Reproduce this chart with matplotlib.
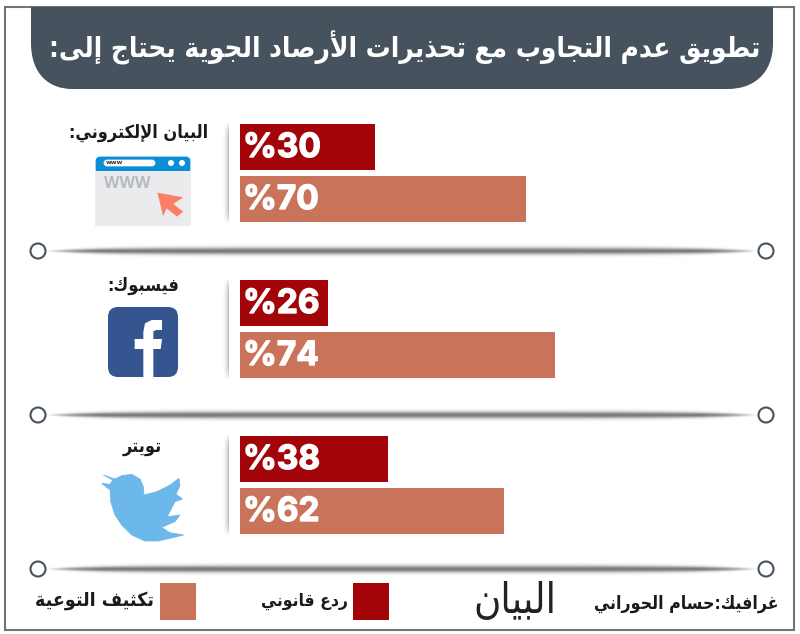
"""Recreate the Arabic infographic: two-bar panels for three media channels."""
import unicodedata

import matplotlib
matplotlib.use('Agg')
import matplotlib.patheffects as pe
import matplotlib.pyplot as plt
import numpy as np
from matplotlib.patches import Circle, FancyBboxPatch, PathPatch, Polygon, Rectangle
from matplotlib.path import Path

# values printed on the bars
legal_pct = [30, 26, 38]
awareness_pct = [70, 74, 62]
# bar lengths as measured (the source graphic is not drawn to one scale)
legal_len = [135, 88, 148]
awareness_len = [286, 315, 264]

title = 'تطويق عدم التجاوب مع تحذيرات الأرصاد الجوية يحتاج إلى:'
channels = ['البيان الإلكتروني:', 'فيسبوك:', 'تويتر']
legend_labels = ['تكثيف التوعية', 'ردع قانوني']
credit = 'غرافيك:حسام الحوراني'
logo = 'البيان'

DARK = '#A30409'
LIGHT = '#C9735A'
SLATE = '#46535E'
INK = '#1A1A1A'

LETTERS = {'ء': 'HAMZA', 'آ': 'ALEF WITH MADDA ABOVE', 'أ': 'ALEF WITH HAMZA ABOVE',
           'إ': 'ALEF WITH HAMZA BELOW', 'ا': 'ALEF', 'ب': 'BEH', 'ة': 'TEH MARBUTA', 'ت': 'TEH',
           'ج': 'JEEM', 'ح': 'HAH', 'خ': 'KHAH', 'د': 'DAL', 'ذ': 'THAL', 'ر': 'REH', 'ز': 'ZAIN',
           'س': 'SEEN', 'ش': 'SHEEN', 'ص': 'SAD', 'ط': 'TAH', 'ع': 'AIN', 'غ': 'GHAIN', 'ف': 'FEH',
           'ث': 'THEH', 'ق': 'QAF', 'ك': 'KAF', 'ل': 'LAM', 'م': 'MEEM', 'ن': 'NOON', 'ه': 'HEH',
           'و': 'WAW', 'ى': 'ALEF MAKSURA', 'ي': 'YEH'}
RIGHT_ONLY = set('آأإادذرزوةى')
LAM_ALEF = {'ا': 'ALEF', 'أ': 'ALEF WITH HAMZA ABOVE', 'إ': 'ALEF WITH HAMZA BELOW'}


def form(ch, joins_prev, joins_next):
    if ch not in LETTERS:
        return ch
    kind = 'ISOLATED'
    if joins_prev and joins_next:
        kind = 'MEDIAL'
    elif joins_prev:
        kind = 'FINAL'
    elif joins_next:
        kind = 'INITIAL'
    return unicodedata.lookup(f'ARABIC LETTER {LETTERS[ch]} {kind} FORM')


def shape(text):
    """Contextual forms and visual order, since matplotlib does no Arabic shaping."""
    out = []
    i = 0
    prev_joins = False
    while i < len(text):
        ch = text[i]
        nxt = text[i + 1] if i + 1 < len(text) else ''
        if ch == 'ل' and nxt in LAM_ALEF:
            kind = 'FINAL' if prev_joins else 'ISOLATED'
            out.append(unicodedata.lookup(f'ARABIC LIGATURE LAM WITH {LAM_ALEF[nxt]} {kind} FORM'))
            prev_joins = False
            i += 2
            continue
        if ch not in LETTERS:
            out.append(ch)
            prev_joins = False
            i += 1
            continue
        can_next = ch not in RIGHT_ONLY and ch != 'ء' and nxt in LETTERS and nxt != 'ء'
        out.append(form(ch, prev_joins, can_next))
        prev_joins = can_next
        i += 1
    return ''.join(reversed(out))


def arabic(ax, x, y, text, size, color=INK, ha='center', weight='bold'):
    ax.text(x, y, shape(text), color=color, fontsize=size, fontweight=weight, ha=ha, va='center',
            family='DejaVu Sans', stretch='condensed', zorder=3)


def divider(ax, x0, x1, y):
    # soft grey rule that tapers toward both ends
    a = np.linspace(-1, 1, 400)
    b = np.linspace(-1, 1, 40)
    half = 0.08 + 0.32 * np.clip(1 - np.abs(a) ** 6, 0, 1)
    alpha = np.exp(-(b[:, None] / half[None, :]) ** 2) * np.clip((1 - np.abs(a) ** 14) * 1.1, 0, 1)
    rgba = np.zeros(alpha.shape + (4,))
    rgba[..., :3] = 0.38
    rgba[..., 3] = alpha * 0.85
    ax.imshow(rgba, extent=(x0, x1, y + 9, y - 9), aspect='auto', zorder=1, interpolation='bilinear')


def side_shadow(ax, x0, x1, y0, y1):
    # faint vertical shade beside each pair of bars
    a = np.linspace(-1, 1, 200)
    b = np.linspace(0, 1, 24)
    alpha = np.outer(np.clip(1.15 - a ** 6 * 1.15, 0, 1), b ** 2.5) * 0.45
    rgba = np.zeros(alpha.shape + (4,))
    rgba[..., :3] = 0.4
    rgba[..., 3] = alpha
    ax.imshow(rgba, extent=(x0, x1, y1, y0), aspect='auto', zorder=1, interpolation='bilinear')


fig = plt.figure(figsize=(8.0, 6.34), dpi=100)
ax = fig.add_axes([0, 0, 1, 1])

# frame
ax.add_patch(Rectangle((5, 7), 789, 623, fc='white', ec='#6F7478', lw=1.5, zorder=0))

# header band with large rounded lower corners
verts = [(31, 7), (773, 7), (773, 43), (773, 75), (752, 89), (728, 89), (72, 89), (50, 89), (31, 75),
         (31, 43), (31, 7)]
codes = [Path.MOVETO, Path.LINETO, Path.LINETO, Path.CURVE4, Path.CURVE4, Path.CURVE4, Path.LINETO,
         Path.CURVE4, Path.CURVE4, Path.CURVE4, Path.CLOSEPOLY]
ax.add_patch(PathPatch(Path(verts, codes), fc=SLATE, ec='none', zorder=2))
arabic(ax, 405, 48, title, 20, color='white')

# bars
tops = [124, 280, 436]
bar_h = 46
thick = [pe.withStroke(linewidth=1.0, foreground='white')]
for i in range(3):
    ax.barh(tops[i] + bar_h / 2, legal_len[i], height=bar_h, left=240, color=DARK, zorder=2)
    ax.barh(tops[i] + 52 + bar_h / 2, awareness_len[i], height=bar_h, left=240, color=LIGHT, zorder=2)
    ax.text(243, tops[i] + bar_h / 2 + 1, f'%{legal_pct[i]}', color='white', fontsize=24,
            fontweight='bold', family='Inter', va='center', ha='left', zorder=3, path_effects=thick)
    ax.text(243, tops[i] + 52 + bar_h / 2 + 1, f'%{awareness_pct[i]}', color='white', fontsize=24,
            fontweight='bold', family='Inter', va='center', ha='left', zorder=3, path_effects=thick)
    side_shadow(ax, 221, 229, tops[i] - 2, tops[i] + 100)

# dividers with end rings
for y in [251, 415, 569]:
    divider(ax, 46, 758, y)
    for x in [38, 766]:
        ax.add_patch(Circle((x, y), 7.5, fc='white', ec=SLATE, lw=1.5, zorder=3))

# channel names
label_x = [139, 143, 142]
label_y = [133, 286, 447]
for name, x, y in zip(channels, label_x, label_y):
    arabic(ax, x, y, name, 13)

# browser icon
ax.add_patch(FancyBboxPatch((97, 158), 92, 14, boxstyle='round,pad=0,rounding_size=3',
                            fc='#0A8FD6', ec='#0A8FD6', lw=2, zorder=2))
ax.add_patch(Rectangle((95, 171), 96, 55, fc='#EBEBED', ec='none', zorder=2))
ax.add_patch(FancyBboxPatch((104, 160), 51, 6, boxstyle='round,pad=0,rounding_size=3',
                            fc='white', ec='white', lw=0.5, zorder=3))
ax.text(106, 163, 'www', color='#333333', fontsize=4.5, fontweight='bold', va='center', zorder=4)
for x in [171, 182]:
    ax.add_patch(Circle((x, 163), 3, fc='white', ec='none', zorder=3))
ax.text(104, 184, 'WWW', color='#B5BBC5', fontsize=11.5, fontweight='bold', va='center', family='Open Sans',
        zorder=3)
cursor = [(307, 578), (357, 592), (338, 612), (357, 635), (345, 650), (325, 625), (318, 648)]
ax.add_patch(Polygon([(x / 1.95, y / 3) for x, y in cursor], fc='#F97F66', ec='none', zorder=3))

# facebook icon
ax.add_patch(FancyBboxPatch((118, 317), 50, 50, boxstyle='round,pad=10,rounding_size=10',
                            fc='#34558F', ec='none', zorder=2))
f_z = [(250, 322), (250, 237), (224, 237), (224, 207), (250, 207), (250, 185), (255, 160), (275, 150),
       (306, 150), (306, 180), (288, 180), (280, 184), (280, 207), (306, 207), (302, 237), (280, 237),
       (280, 322)]
ax.add_patch(Polygon([(60 + x / 3, 270 + y / 3) for x, y in f_z], fc='white', ec='none', zorder=3))

bird_z = [(40, 30), (75, 42), (95, 32), (125, 28), (150, 42), (160, 65), (162, 90), (200, 80), (240, 60),
          (267, 40), (270, 62), (258, 88), (278, 102), (255, 110), (232, 155), (270, 150), (255, 170),
          (215, 187), (240, 203), (281, 210), (240, 220), (205, 228), (165, 228), (125, 210), (95, 180),
          (75, 150), (62, 110), (60, 75), (35, 55), (60, 58), (68, 45)]
ax.add_patch(Polygon([(90 + x / 3, 465 + y / 3) for x, y in bird_z], fc='#6CB8EA', ec='#6CB8EA', lw=0.5,
                     zorder=2))

# legend row
ax.add_patch(Rectangle((160, 583), 36, 37, fc=LIGHT, ec='none', zorder=2))
ax.add_patch(Rectangle((353, 583), 36, 37, fc=DARK, ec='none', zorder=2))
arabic(ax, 154, 601, legend_labels[0], 14, ha='right')
arabic(ax, 348, 601, legend_labels[1], 12.5, ha='right')
arabic(ax, 515, 601, logo, 30, color='#222222', weight='normal')
arabic(ax, 778, 604, credit, 12.7, ha='right')

ax.set_xlim(0, 800)
ax.set_ylim(634, 0)
ax.axis('off')
fig.savefig('out.png', dpi=100)
